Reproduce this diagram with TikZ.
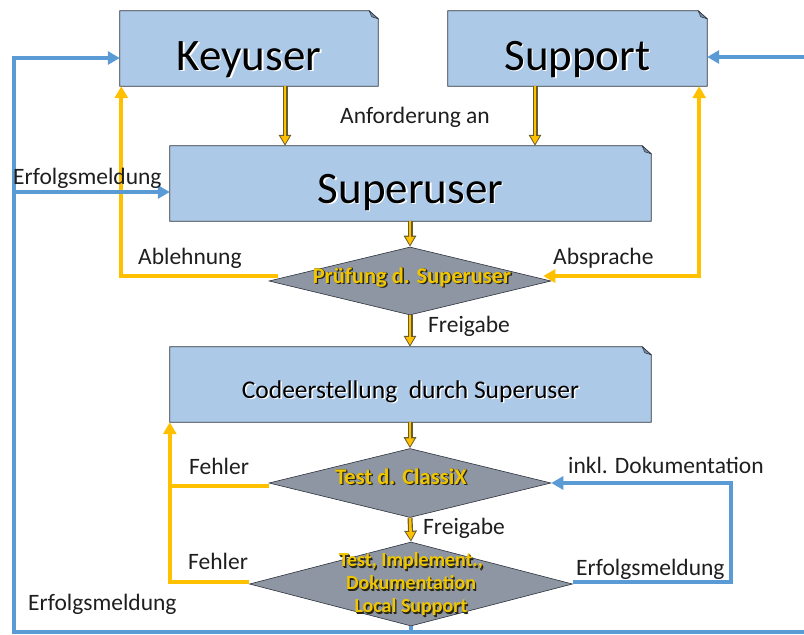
\documentclass[tikz,border=0pt]{standalone}
\usepackage{fontspec}
\setmainfont{Carlito}
\usetikzlibrary{arrows.meta,shapes.geometric,backgrounds}

\definecolor{boxfill}{RGB}{172,201,232}
\definecolor{boxedge}{RGB}{45,50,60}
\definecolor{foldfill}{RGB}{118,138,165}
\definecolor{flowblue}{RGB}{91,155,213}
\definecolor{flowgold}{RGB}{255,192,0}
\definecolor{tipedge}{RGB}{105,92,45}
\definecolor{decfill}{RGB}{142,150,164}
\definecolor{dectext}{RGB}{240,198,0}
\definecolor{decshadow}{RGB}{40,38,22}
\definecolor{labeltext}{RGB}{30,30,30}

% yellow lettering with a dark drop shadow
\newcommand\goldtext[1]{\leavevmode
  \rlap{\hspace{1.4pt}\raisebox{-1.4pt}{\color{decshadow}#1}}%
  \rlap{\hspace{0.7pt}\raisebox{-0.7pt}{\color{decshadow}#1}}%
  {\color{dectext}#1}}
% dark lettering with a light glow
\newcommand\glowtext[1]{\leavevmode\rlap{\hspace{1.5pt}\raisebox{-1.5pt}{\color{white}#1}}#1}

\begin{document}
\begin{tikzpicture}[x=1pt,y=-1pt,
  stage/.style={rectangle, minimum width=#1, minimum height=75pt, inner sep=0pt, text=black},
  bigtitle/.style={font=\fontsize{45}{54}\selectfont},
  midtitle/.style={font=\fontsize{25.5}{30}\selectfont},
  decision/.style={diamond, draw=boxedge, fill=decfill, line width=0.6pt, inner sep=0pt,
                   minimum width=#1},
  dectxt/.style={inner sep=0pt, font=\fontsize{22.5}{27}\selectfont\bfseries},
  dectxtb/.style={inner sep=0pt, align=center, font=\fontsize{20}{23}\selectfont\bfseries},
  lbl/.style={inner sep=0pt, anchor=base west, text=labeltext, font=\fontsize{23.5}{28}\selectfont},
  bflow/.style={draw=flowblue, line width=4pt},
  gflow/.style={draw=flowgold, line width=4pt},
  tipA/.style={-{Triangle[length=12pt,width=13pt]}},
  tipAA/.style={{Triangle[length=12pt,width=13pt]}-{Triangle[length=12pt,width=13pt]}},
  garrow/.style={draw=tipedge, line width=5pt, -{Triangle[length=11pt,width=12pt]},
     postaction={draw=flowgold, line width=2.6pt, shorten >=1.8pt, -{Triangle[length=8pt,width=8.4pt]}}}
]
\useasboundingbox (0,0) rectangle (804,635);

% ---- process boxes ----
\node[stage=258pt, bigtitle] (key) at (249,48.5) {\raisebox{-21.5pt}[0pt][0pt]{\glowtext{Keyuser}}};
\node[stage=259pt, bigtitle] (sup) at (577.5,48.5) {\raisebox{-21.5pt}[0pt][0pt]{\glowtext{Support}}};
\node[stage=481pt, bigtitle] (su) at (410.5,183.5) {\raisebox{-19.5pt}[0pt][0pt]{\glowtext{Superuser}}};
\node[stage=481pt, midtitle] (code) at (410.5,384.5) {\raisebox{-13.5pt}[0pt][0pt]{\glowtext{Codeerstellung\ \ durch Superuser}}};

\begin{scope}[on background layer]
  \foreach \b in {key,sup,su,code}{
    \filldraw[fill=boxfill, draw=boxedge, line width=0.8pt]
      (\b.north west) -- ([xshift=-9pt]\b.north east) -- ([yshift=-8pt]\b.north east)
      -- (\b.south east) -- (\b.south west) -- cycle;
    \filldraw[fill=foldfill, draw=boxedge, line width=0.5pt]
      ([xshift=-9pt]\b.north east) -- ([yshift=-8pt]\b.north east)
      -- ([xshift=-6.5pt,yshift=-6pt]\b.north east) -- cycle;
  }
\end{scope}

% ---- decisions ----
\node[decision=282pt, minimum height=68pt] (d1) at (410,281) {};
\node[decision=282pt, minimum height=69pt] (d2) at (410,483) {};
\node[decision=323pt, minimum height=84pt] (d3) at (411,584) {};

\node[dectxt, anchor=base] (d1t) at ([xshift=2pt,yshift=-2pt]d1.center) {\goldtext{Prüfung d. Superuser}};
\node[dectxt, anchor=base] (d2t) at ([xshift=-9pt,yshift=-1pt]d2.center) {\goldtext{Test d. ClassiX}};
\node[dectxtb] (d3t) at ([yshift=-1pt]d3.center) {\goldtext{Test, Implement.,}\\\goldtext{Dokumentation}\\\goldtext{Local Support}};

% ---- main flow (double yellow arrows) ----
\draw[garrow] ([xshift=36pt]key.south) -- ([xshift=36pt]key.south |- su.north);
\draw[garrow] ([xshift=-42.5pt]sup.south) -- ([xshift=-42.5pt]sup.south |- su.north);
\draw[garrow] (su.south -| d1.north) -- (d1.north);
\draw[garrow] (d1.south) -- (d1.south |- code.north);
\draw[garrow] (code.south -| d2.north) -- (d2.north);
\draw[garrow] (d2.south) -- (d3.north);

% ---- rejections and agreements (yellow) ----
\draw[gflow, tipA] ([xshift=9pt,yshift=5pt]d1.west) -| ([xshift=1.5pt]key.south west);
\draw[gflow, tipAA] ([xshift=-8pt,yshift=5pt]d1.east) -| ([xshift=-8pt]sup.south east);
\draw[gflow, tipA] ([yshift=-3pt]d2.west) -| (code.south west);
\draw[gflow] ([yshift=2pt]d3.west) -| (d2.west -| code.south west);

% ---- success reports (blue) ----
\coordinate (bl) at (14,632);
\coordinate (tl) at (14,58);
\coordinate (br) at (804,632);
\coordinate (tr) at (804,57);
\coordinate (ml) at (14,192);
\coordinate (rl) at (731,0);
\draw[bflow, tipA] (d3.south) |- (bl) -- (tl) -- ([yshift=-9.5pt]key.west);
\draw[bflow] (d3.south) |- (br);
\draw[bflow, tipA] (tr) -- ([yshift=-8.5pt]sup.east);
\draw[bflow, tipA] (ml) -- ([yshift=-8.5pt]su.west);
\draw[bflow, tipA] ([yshift=2pt]d3.east) -| (rl |- d2.east) -- (d2.east);

% ---- labels ----
\node[lbl] (l1) at (13,184) {Erfolgsmeldung};
\node[lbl] (l2) at (138,264) {Ablehnung};
\node[lbl] (l3) at (553,264) {Absprache};
\node[lbl] (l4) at (340,123) {Anforderung an};
\node[lbl] (l5) at (428,332) {Freigabe};
\node[lbl] (l6) at (189,474) {Fehler};
\node[lbl] (l7) at (188,569) {Fehler};
\node[lbl] (l8) at (423,534) {Freigabe};
\node[lbl] (l9) at (568,473) {inkl. Dokumentation};
\node[lbl] (l10) at (576,575) {Erfolgsmeldung};
\node[lbl] (l11) at (28,610) {Erfolgsmeldung};
\end{tikzpicture}
\end{document}
